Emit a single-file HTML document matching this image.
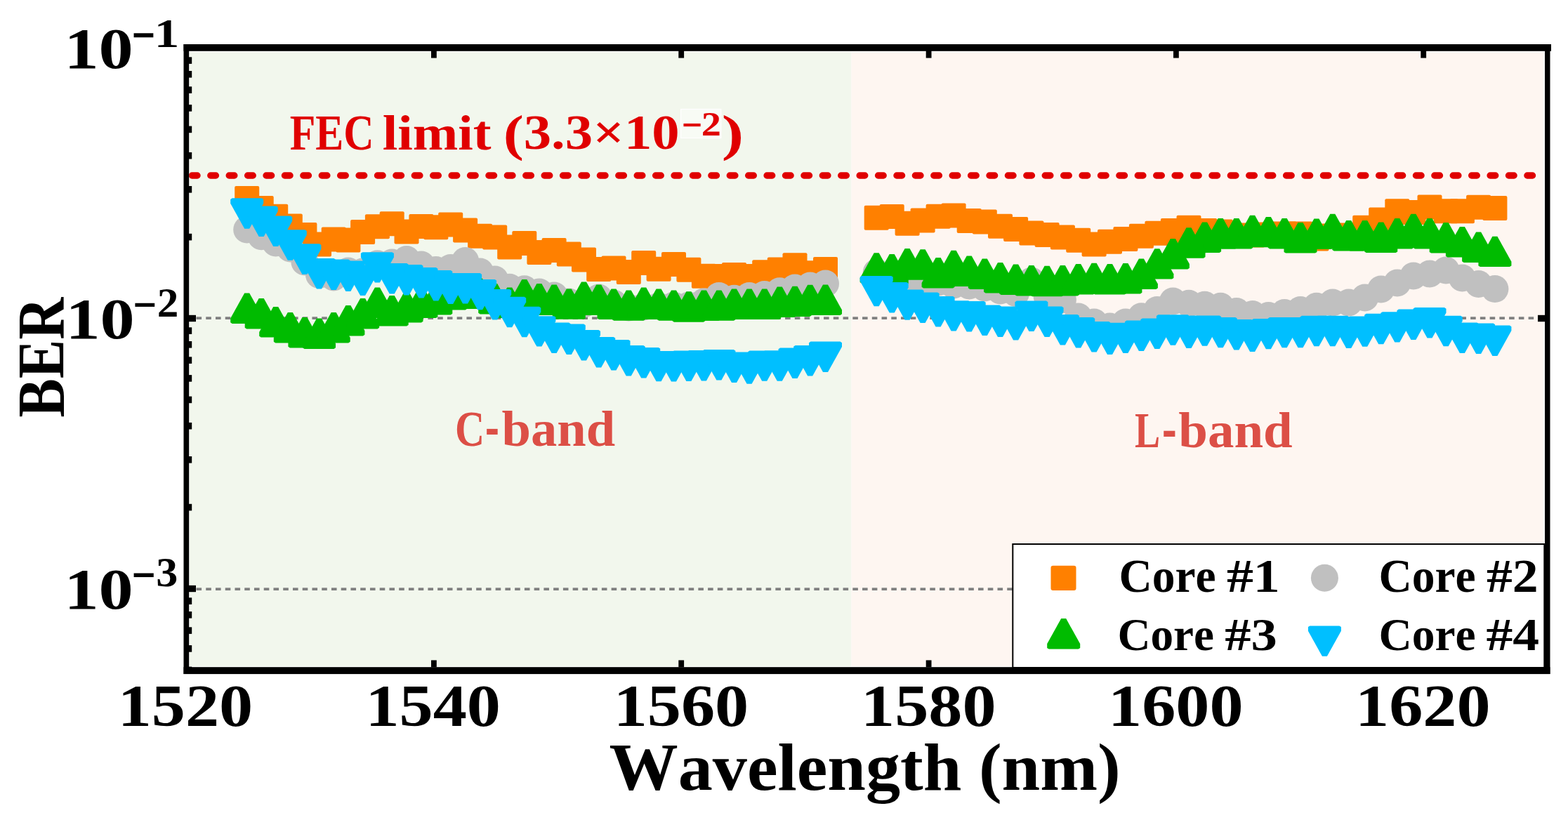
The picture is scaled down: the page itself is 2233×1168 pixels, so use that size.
<!DOCTYPE html>
<html><head><meta charset="utf-8"><title>BER vs Wavelength</title><style>html,body{margin:0;padding:0;background:#fff}svg{display:block}</style></head><body>
<svg width="2233" height="1168" viewBox="0 0 2233 1168" font-family="'Liberation Serif', serif" font-weight="bold" style="font-kerning:none">
<rect width="2233" height="1168" fill="#fff"/>
<rect x="270" y="73.8" width="942.5" height="875.2" fill="#F2F7ED"/>
<rect x="1212.5" y="73.8" width="986.5" height="875.2" fill="#FEF6F1"/>
<line x1="265.75" y1="453.1" x2="2200" y2="453.1" stroke="#808080" stroke-width="3.7" stroke-dasharray="7.6 6.147"/>
<line x1="265.75" y1="839.1" x2="2200" y2="839.1" stroke="#808080" stroke-width="3.7" stroke-dasharray="7.6 6.147"/>
<clipPath id="pc"><rect x="269.2" y="72.8" width="1930.8" height="877.2"/></clipPath>
<line x1="273.39" y1="250" x2="2190" y2="250" stroke="#E00000" stroke-width="9.4" stroke-linecap="round" stroke-dasharray="7.6 18.81" clip-path="url(#pc)"/>
<g clip-path="url(#pc)"><g fill="#FF8000"><rect x="334.2" y="265.0" width="35" height="35" rx="2"/><rect x="354.7" y="279.0" width="35" height="35" rx="2"/><rect x="375.2" y="290.8" width="35" height="35" rx="2"/><rect x="395.8" y="304.5" width="35" height="35" rx="2"/><rect x="416.4" y="317.0" width="35" height="35" rx="2"/><rect x="437.0" y="330.5" width="35" height="35" rx="2"/><rect x="457.7" y="323.5" width="35" height="35" rx="2"/><rect x="478.4" y="324.5" width="35" height="35" rx="2"/><rect x="499.1" y="313.1" width="35" height="35" rx="2"/><rect x="519.9" y="305.3" width="35" height="35" rx="2"/><rect x="540.7" y="301.3" width="35" height="35" rx="2"/><rect x="561.5" y="312.5" width="35" height="35" rx="2"/><rect x="582.4" y="305.0" width="35" height="35" rx="2"/><rect x="603.3" y="306.2" width="35" height="35" rx="2"/><rect x="624.2" y="302.5" width="35" height="35" rx="2"/><rect x="645.1" y="310.5" width="35" height="35" rx="2"/><rect x="666.1" y="318.8" width="35" height="35" rx="2"/><rect x="687.2" y="320.5" width="35" height="35" rx="2"/><rect x="708.2" y="334.5" width="35" height="35" rx="2"/><rect x="729.3" y="329.0" width="35" height="35" rx="2"/><rect x="750.4" y="342.0" width="35" height="35" rx="2"/><rect x="771.6" y="339.0" width="35" height="35" rx="2"/><rect x="792.8" y="344.5" width="35" height="35" rx="2"/><rect x="814.0" y="352.5" width="35" height="35" rx="2"/><rect x="835.2" y="366.0" width="35" height="35" rx="2"/><rect x="856.5" y="364.5" width="35" height="35" rx="2"/><rect x="877.8" y="370.0" width="35" height="35" rx="2"/><rect x="899.2" y="357.0" width="35" height="35" rx="2"/><rect x="920.6" y="365.8" width="35" height="35" rx="2"/><rect x="942.0" y="359.0" width="35" height="35" rx="2"/><rect x="963.4" y="366.7" width="35" height="35" rx="2"/><rect x="984.9" y="375.7" width="35" height="35" rx="2"/><rect x="1006.4" y="376.0" width="35" height="35" rx="2"/><rect x="1028.0" y="374.1" width="35" height="35" rx="2"/><rect x="1049.6" y="376.0" width="35" height="35" rx="2"/><rect x="1071.2" y="370.3" width="35" height="35" rx="2"/><rect x="1092.8" y="366.4" width="35" height="35" rx="2"/><rect x="1114.5" y="360.3" width="35" height="35" rx="2"/><rect x="1136.2" y="371.2" width="35" height="35" rx="2"/><rect x="1158.0" y="366.0" width="35" height="35" rx="2"/><rect x="1230.7" y="292.7" width="35" height="35" rx="2"/><rect x="1252.7" y="291.0" width="35" height="35" rx="2"/><rect x="1274.6" y="300.7" width="35" height="35" rx="2"/><rect x="1296.6" y="296.5" width="35" height="35" rx="2"/><rect x="1318.6" y="290.7" width="35" height="35" rx="2"/><rect x="1340.6" y="289.5" width="35" height="35" rx="2"/><rect x="1362.7" y="297.0" width="35" height="35" rx="2"/><rect x="1384.8" y="298.6" width="35" height="35" rx="2"/><rect x="1407.0" y="304.7" width="35" height="35" rx="2"/><rect x="1429.1" y="308.9" width="35" height="35" rx="2"/><rect x="1451.4" y="314.5" width="35" height="35" rx="2"/><rect x="1473.6" y="317.0" width="35" height="35" rx="2"/><rect x="1495.9" y="320.5" width="35" height="35" rx="2"/><rect x="1518.2" y="324.8" width="35" height="35" rx="2"/><rect x="1540.6" y="330.5" width="35" height="35" rx="2"/><rect x="1563.0" y="326.8" width="35" height="35" rx="2"/><rect x="1585.4" y="323.0" width="35" height="35" rx="2"/><rect x="1607.9" y="318.8" width="35" height="35" rx="2"/><rect x="1630.4" y="314.7" width="35" height="35" rx="2"/><rect x="1652.9" y="311.0" width="35" height="35" rx="2"/><rect x="1675.5" y="306.8" width="35" height="35" rx="2"/><rect x="1698.1" y="311.0" width="35" height="35" rx="2"/><rect x="1720.7" y="312.5" width="35" height="35" rx="2"/><rect x="1743.4" y="318.5" width="35" height="35" rx="2"/><rect x="1766.1" y="317.5" width="35" height="35" rx="2"/><rect x="1788.9" y="316.5" width="35" height="35" rx="2"/><rect x="1811.7" y="315.5" width="35" height="35" rx="2"/><rect x="1834.5" y="315.5" width="35" height="35" rx="2"/><rect x="1857.4" y="322.5" width="35" height="35" rx="2"/><rect x="1880.3" y="318.5" width="35" height="35" rx="2"/><rect x="1903.2" y="317.5" width="35" height="35" rx="2"/><rect x="1926.2" y="306.8" width="35" height="35" rx="2"/><rect x="1949.2" y="295.5" width="35" height="35" rx="2"/><rect x="1972.3" y="283.2" width="35" height="35" rx="2"/><rect x="1995.4" y="285.0" width="35" height="35" rx="2"/><rect x="2018.5" y="277.5" width="35" height="35" rx="2"/><rect x="2041.7" y="283.2" width="35" height="35" rx="2"/><rect x="2064.9" y="283.2" width="35" height="35" rx="2"/><rect x="2088.1" y="277.7" width="35" height="35" rx="2"/><rect x="2111.4" y="279.0" width="35" height="35" rx="2"/></g><g fill="#C0C0C0"><circle cx="351.7" cy="327.0" r="19.5"/><circle cx="372.2" cy="336.8" r="19.5"/><circle cx="392.7" cy="346.0" r="19.5"/><circle cx="413.3" cy="354.0" r="19.5"/><circle cx="433.9" cy="373.0" r="19.5"/><circle cx="454.5" cy="391.5" r="19.5"/><circle cx="475.2" cy="395.0" r="19.5"/><circle cx="495.9" cy="386.0" r="19.5"/><circle cx="516.6" cy="387.0" r="19.5"/><circle cx="537.4" cy="375.8" r="19.5"/><circle cx="558.2" cy="374.0" r="19.5"/><circle cx="579.0" cy="369.5" r="19.5"/><circle cx="599.9" cy="377.0" r="19.5"/><circle cx="620.8" cy="384.5" r="19.5"/><circle cx="641.7" cy="381.4" r="19.5"/><circle cx="662.6" cy="371.5" r="19.5"/><circle cx="683.6" cy="387.0" r="19.5"/><circle cx="704.7" cy="398.0" r="19.5"/><circle cx="725.7" cy="409.3" r="19.5"/><circle cx="746.8" cy="411.8" r="19.5"/><circle cx="767.9" cy="415.9" r="19.5"/><circle cx="789.1" cy="420.9" r="19.5"/><circle cx="810.3" cy="430.0" r="19.5"/><circle cx="831.5" cy="433.0" r="19.5"/><circle cx="852.7" cy="424.0" r="19.5"/><circle cx="874.0" cy="432.0" r="19.5"/><circle cx="895.3" cy="438.0" r="19.5"/><circle cx="916.7" cy="437.0" r="19.5"/><circle cx="938.1" cy="436.0" r="19.5"/><circle cx="959.5" cy="435.0" r="19.5"/><circle cx="980.9" cy="435.0" r="19.5"/><circle cx="1002.4" cy="430.0" r="19.5"/><circle cx="1023.9" cy="421.4" r="19.5"/><circle cx="1045.5" cy="425.2" r="19.5"/><circle cx="1067.1" cy="421.4" r="19.5"/><circle cx="1088.7" cy="419.5" r="19.5"/><circle cx="1110.3" cy="414.7" r="19.5"/><circle cx="1132.0" cy="409.9" r="19.5"/><circle cx="1153.7" cy="407.0" r="19.5"/><circle cx="1175.5" cy="404.0" r="19.5"/><circle cx="1248.2" cy="388.0" r="19.5"/><circle cx="1270.2" cy="398.0" r="19.5"/><circle cx="1292.1" cy="406.0" r="19.5"/><circle cx="1314.1" cy="408.0" r="19.5"/><circle cx="1336.1" cy="402.0" r="19.5"/><circle cx="1358.1" cy="406.0" r="19.5"/><circle cx="1380.2" cy="407.0" r="19.5"/><circle cx="1402.3" cy="410.0" r="19.5"/><circle cx="1424.5" cy="414.0" r="19.5"/><circle cx="1446.6" cy="417.5" r="19.5"/><circle cx="1468.9" cy="400.0" r="19.5"/><circle cx="1491.1" cy="422.0" r="19.5"/><circle cx="1513.4" cy="427.0" r="19.5"/><circle cx="1535.7" cy="451.0" r="19.5"/><circle cx="1558.1" cy="459.0" r="19.5"/><circle cx="1580.5" cy="465.0" r="19.5"/><circle cx="1602.9" cy="458.9" r="19.5"/><circle cx="1625.4" cy="450.7" r="19.5"/><circle cx="1647.9" cy="441.4" r="19.5"/><circle cx="1670.4" cy="429.0" r="19.5"/><circle cx="1693.0" cy="432.2" r="19.5"/><circle cx="1715.6" cy="434.2" r="19.5"/><circle cx="1738.2" cy="436.3" r="19.5"/><circle cx="1760.9" cy="443.5" r="19.5"/><circle cx="1783.6" cy="447.6" r="19.5"/><circle cx="1806.4" cy="449.6" r="19.5"/><circle cx="1829.2" cy="445.5" r="19.5"/><circle cx="1852.0" cy="441.4" r="19.5"/><circle cx="1874.9" cy="436.3" r="19.5"/><circle cx="1897.8" cy="431.1" r="19.5"/><circle cx="1920.7" cy="431.0" r="19.5"/><circle cx="1943.7" cy="424.0" r="19.5"/><circle cx="1966.7" cy="412.0" r="19.5"/><circle cx="1989.8" cy="403.0" r="19.5"/><circle cx="2012.9" cy="393.0" r="19.5"/><circle cx="2036.0" cy="390.0" r="19.5"/><circle cx="2059.2" cy="385.0" r="19.5"/><circle cx="2082.4" cy="396.0" r="19.5"/><circle cx="2105.6" cy="404.5" r="19.5"/><circle cx="2128.9" cy="411.6" r="19.5"/></g><g fill="#00BB00"><path d="M348.2 417.5L355.2 417.5L375.2 453.5L375.2 459.3L372.7 460.9L330.7 460.9L328.2 459.3L328.2 453.5Z"/><path d="M368.7 425.0L375.7 425.0L395.7 461.0L395.7 466.8L393.2 468.4L351.2 468.4L348.7 466.8L348.7 461.0Z"/><path d="M389.2 437.0L396.2 437.0L416.2 473.0L416.2 478.8L413.7 480.4L371.7 480.4L369.2 478.8L369.2 473.0Z"/><path d="M409.8 445.0L416.8 445.0L436.8 481.0L436.8 486.8L434.3 488.4L392.3 488.4L389.8 486.8L389.8 481.0Z"/><path d="M430.4 452.0L437.4 452.0L457.4 488.0L457.4 493.8L454.9 495.4L412.9 495.4L410.4 493.8L410.4 488.0Z"/><path d="M451.0 453.5L458.0 453.5L478.0 489.5L478.0 495.3L475.5 496.9L433.5 496.9L431.0 495.3L431.0 489.5Z"/><path d="M471.7 445.0L478.7 445.0L498.7 481.0L498.7 486.8L496.2 488.4L454.2 488.4L451.7 486.8L451.7 481.0Z"/><path d="M492.4 435.0L499.4 435.0L519.4 471.0L519.4 476.8L516.9 478.4L474.9 478.4L472.4 476.8L472.4 471.0Z"/><path d="M513.1 425.0L520.1 425.0L540.1 461.0L540.1 466.8L537.6 468.4L495.6 468.4L493.1 466.8L493.1 461.0Z"/><path d="M533.9 409.5L540.9 409.5L560.9 445.5L560.9 451.3L558.4 452.9L516.4 452.9L513.9 451.3L513.9 445.5Z"/><path d="M554.7 421.0L561.7 421.0L581.7 457.0L581.7 462.8L579.2 464.4L537.2 464.4L534.7 462.8L534.7 457.0Z"/><path d="M575.5 416.0L582.5 416.0L602.5 452.0L602.5 457.8L600.0 459.4L558.0 459.4L555.5 457.8L555.5 452.0Z"/><path d="M596.4 409.5L603.4 409.5L623.4 445.5L623.4 451.3L620.9 452.9L578.9 452.9L576.4 451.3L576.4 445.5Z"/><path d="M617.3 405.0L624.3 405.0L644.3 441.0L644.3 446.8L641.8 448.4L599.8 448.4L597.3 446.8L597.3 441.0Z"/><path d="M638.2 398.0L645.2 398.0L665.2 434.0L665.2 439.8L662.7 441.4L620.7 441.4L618.2 439.8L618.2 434.0Z"/><path d="M659.1 396.8L666.1 396.8L686.1 432.8L686.1 438.6L683.6 440.1L641.6 440.1L639.1 438.6L639.1 432.8Z"/><path d="M680.1 396.8L687.1 396.8L707.1 432.8L707.1 438.6L704.6 440.1L662.6 440.1L660.1 438.6L660.1 432.8Z"/><path d="M701.2 404.0L708.2 404.0L728.2 440.0L728.2 445.8L725.7 447.4L683.7 447.4L681.2 445.8L681.2 440.0Z"/><path d="M722.2 409.5L729.2 409.5L749.2 445.5L749.2 451.3L746.7 452.9L704.7 452.9L702.2 451.3L702.2 445.5Z"/><path d="M743.3 398.0L750.3 398.0L770.3 434.0L770.3 439.8L767.8 441.4L725.8 441.4L723.3 439.8L723.3 434.0Z"/><path d="M764.4 404.0L771.4 404.0L791.4 440.0L791.4 445.8L788.9 447.4L746.9 447.4L744.4 445.8L744.4 440.0Z"/><path d="M785.6 405.5L792.6 405.5L812.6 441.5L812.6 447.3L810.1 448.9L768.1 448.9L765.6 447.3L765.6 441.5Z"/><path d="M806.8 411.4L813.8 411.4L833.8 447.4L833.8 453.2L831.3 454.8L789.3 454.8L786.8 453.2L786.8 447.4Z"/><path d="M828.0 401.4L835.0 401.4L855.0 437.4L855.0 443.2L852.5 444.8L810.5 444.8L808.0 443.2L808.0 437.4Z"/><path d="M849.2 405.5L856.2 405.5L876.2 441.5L876.2 447.3L873.7 448.9L831.7 448.9L829.2 447.3L829.2 441.5Z"/><path d="M870.5 411.5L877.5 411.5L897.5 447.5L897.5 453.3L895.0 454.9L853.0 454.9L850.5 453.3L850.5 447.5Z"/><path d="M891.8 413.4L898.8 413.4L918.8 449.4L918.8 455.2L916.3 456.8L874.3 456.8L871.8 455.2L871.8 449.4Z"/><path d="M913.2 409.6L920.2 409.6L940.2 445.6L940.2 451.4L937.7 453.0L895.7 453.0L893.2 451.4L893.2 445.6Z"/><path d="M934.6 411.5L941.6 411.5L961.6 447.5L961.6 453.3L959.1 454.9L917.1 454.9L914.6 453.3L914.6 447.5Z"/><path d="M956.0 413.4L963.0 413.4L983.0 449.4L983.0 455.2L980.5 456.8L938.5 456.8L936.0 455.2L936.0 449.4Z"/><path d="M977.4 415.3L984.4 415.3L1004.4 451.3L1004.4 457.1L1001.9 458.7L959.9 458.7L957.4 457.1L957.4 451.3Z"/><path d="M998.9 413.4L1005.9 413.4L1025.9 449.4L1025.9 455.2L1023.4 456.8L981.4 456.8L978.9 455.2L978.9 449.4Z"/><path d="M1020.4 413.4L1027.4 413.4L1047.4 449.4L1047.4 455.2L1044.9 456.8L1002.9 456.8L1000.4 455.2L1000.4 449.4Z"/><path d="M1042.0 411.5L1049.0 411.5L1069.0 447.5L1069.0 453.3L1066.5 454.9L1024.5 454.9L1022.0 453.3L1022.0 447.5Z"/><path d="M1063.6 411.5L1070.6 411.5L1090.6 447.5L1090.6 453.3L1088.1 454.9L1046.1 454.9L1043.6 453.3L1043.6 447.5Z"/><path d="M1085.2 411.5L1092.2 411.5L1112.2 447.5L1112.2 453.3L1109.7 454.9L1067.7 454.9L1065.2 453.3L1065.2 447.5Z"/><path d="M1106.8 408.6L1113.8 408.6L1133.8 444.6L1133.8 450.4L1131.3 452.0L1089.3 452.0L1086.8 450.4L1086.8 444.6Z"/><path d="M1128.5 407.7L1135.5 407.7L1155.5 443.7L1155.5 449.5L1153.0 451.1L1111.0 451.1L1108.5 449.5L1108.5 443.7Z"/><path d="M1150.2 405.7L1157.2 405.7L1177.2 441.7L1177.2 447.5L1174.7 449.1L1132.7 449.1L1130.2 447.5L1130.2 441.7Z"/><path d="M1172.0 405.5L1179.0 405.5L1199.0 441.5L1199.0 447.3L1196.5 448.9L1154.5 448.9L1152.0 447.3L1152.0 441.5Z"/><path d="M1244.7 360.3L1251.7 360.3L1271.7 396.3L1271.7 402.1L1269.2 403.7L1227.2 403.7L1224.7 402.1L1224.7 396.3Z"/><path d="M1266.7 362.0L1273.7 362.0L1293.7 398.0L1293.7 403.8L1291.2 405.4L1249.2 405.4L1246.7 403.8L1246.7 398.0Z"/><path d="M1288.6 354.0L1295.6 354.0L1315.6 390.0L1315.6 395.8L1313.1 397.4L1271.1 397.4L1268.6 395.8L1268.6 390.0Z"/><path d="M1310.6 355.3L1317.6 355.3L1337.6 391.3L1337.6 397.1L1335.1 398.7L1293.1 398.7L1290.6 397.1L1290.6 391.3Z"/><path d="M1332.6 367.0L1339.6 367.0L1359.6 403.0L1359.6 408.8L1357.1 410.4L1315.1 410.4L1312.6 408.8L1312.6 403.0Z"/><path d="M1354.6 356.8L1361.6 356.8L1381.6 392.8L1381.6 398.6L1379.1 400.2L1337.1 400.2L1334.6 398.6L1334.6 392.8Z"/><path d="M1376.7 364.5L1383.7 364.5L1403.7 400.5L1403.7 406.3L1401.2 407.9L1359.2 407.9L1356.7 406.3L1356.7 400.5Z"/><path d="M1398.8 368.5L1405.8 368.5L1425.8 404.5L1425.8 410.3L1423.3 411.9L1381.3 411.9L1378.8 410.3L1378.8 404.5Z"/><path d="M1421.0 374.0L1428.0 374.0L1448.0 410.0L1448.0 415.8L1445.5 417.4L1403.5 417.4L1401.0 415.8L1401.0 410.0Z"/><path d="M1443.1 376.5L1450.1 376.5L1470.1 412.5L1470.1 418.3L1467.6 419.9L1425.6 419.9L1423.1 418.3L1423.1 412.5Z"/><path d="M1465.4 378.1L1472.4 378.1L1492.4 414.1L1492.4 419.9L1489.9 421.5L1447.9 421.5L1445.4 419.9L1445.4 414.1Z"/><path d="M1487.6 378.8L1494.6 378.8L1514.6 414.8L1514.6 420.6L1512.1 422.2L1470.1 422.2L1467.6 420.6L1467.6 414.8Z"/><path d="M1509.9 378.1L1516.9 378.1L1536.9 414.1L1536.9 419.9L1534.4 421.5L1492.4 421.5L1489.9 419.9L1489.9 414.1Z"/><path d="M1532.2 376.1L1539.2 376.1L1559.2 412.1L1559.2 417.9L1556.7 419.5L1514.7 419.5L1512.2 417.9L1512.2 412.1Z"/><path d="M1554.6 374.7L1561.6 374.7L1581.6 410.7L1581.6 416.5L1579.1 418.1L1537.1 418.1L1534.6 416.5L1534.6 410.7Z"/><path d="M1577.0 376.1L1584.0 376.1L1604.0 412.1L1604.0 417.9L1601.5 419.5L1559.5 419.5L1557.0 417.9L1557.0 412.1Z"/><path d="M1599.4 375.0L1606.4 375.0L1626.4 411.0L1626.4 416.8L1623.9 418.4L1581.9 418.4L1579.4 416.8L1579.4 411.0Z"/><path d="M1621.9 368.5L1628.9 368.5L1648.9 404.5L1648.9 410.3L1646.4 411.9L1604.4 411.9L1601.9 410.3L1601.9 404.5Z"/><path d="M1644.4 354.2L1651.4 354.2L1671.4 390.2L1671.4 396.0L1668.9 397.6L1626.9 397.6L1624.4 396.0L1624.4 390.2Z"/><path d="M1666.9 340.0L1673.9 340.0L1693.9 376.0L1693.9 381.8L1691.4 383.4L1649.4 383.4L1646.9 381.8L1646.9 376.0Z"/><path d="M1689.5 324.3L1696.5 324.3L1716.5 360.3L1716.5 366.1L1714.0 367.7L1672.0 367.7L1669.5 366.1L1669.5 360.3Z"/><path d="M1712.1 316.5L1719.1 316.5L1739.1 352.5L1739.1 358.3L1736.6 359.9L1694.6 359.9L1692.1 358.3L1692.1 352.5Z"/><path d="M1734.7 311.0L1741.7 311.0L1761.7 347.0L1761.7 352.8L1759.2 354.4L1717.2 354.4L1714.7 352.8L1714.7 347.0Z"/><path d="M1757.4 311.0L1764.4 311.0L1784.4 347.0L1784.4 352.8L1781.9 354.4L1739.9 354.4L1737.4 352.8L1737.4 347.0Z"/><path d="M1780.1 306.8L1787.1 306.8L1807.1 342.8L1807.1 348.6L1804.6 350.2L1762.6 350.2L1760.1 348.6L1760.1 342.8Z"/><path d="M1802.9 308.9L1809.9 308.9L1829.9 344.9L1829.9 350.7L1827.4 352.3L1785.4 352.3L1782.9 350.7L1782.9 344.9Z"/><path d="M1825.7 311.0L1832.7 311.0L1852.7 347.0L1852.7 352.8L1850.2 354.4L1808.2 354.4L1805.7 352.8L1805.7 347.0Z"/><path d="M1848.5 317.1L1855.5 317.1L1875.5 353.1L1875.5 358.9L1873.0 360.5L1831.0 360.5L1828.5 358.9L1828.5 353.1Z"/><path d="M1871.4 311.6L1878.4 311.6L1898.4 347.6L1898.4 353.4L1895.9 355.0L1853.9 355.0L1851.4 353.4L1851.4 347.6Z"/><path d="M1894.3 304.8L1901.3 304.8L1921.3 340.8L1921.3 346.6L1918.8 348.2L1876.8 348.2L1874.3 346.6L1874.3 340.8Z"/><path d="M1917.2 314.0L1924.2 314.0L1944.2 350.0L1944.2 355.8L1941.7 357.4L1899.7 357.4L1897.2 355.8L1897.2 350.0Z"/><path d="M1940.2 314.0L1947.2 314.0L1967.2 350.0L1967.2 355.8L1964.7 357.4L1922.7 357.4L1920.2 355.8L1920.2 350.0Z"/><path d="M1963.2 316.6L1970.2 316.6L1990.2 352.6L1990.2 358.4L1987.7 360.0L1945.7 360.0L1943.2 358.4L1943.2 352.6Z"/><path d="M1986.3 311.0L1993.3 311.0L2013.3 347.0L2013.3 352.8L2010.8 354.4L1968.8 354.4L1966.3 352.8L1966.3 347.0Z"/><path d="M2009.4 304.8L2016.4 304.8L2036.4 340.8L2036.4 346.6L2033.9 348.2L1991.9 348.2L1989.4 346.6L1989.4 340.8Z"/><path d="M2032.5 311.0L2039.5 311.0L2059.5 347.0L2059.5 352.8L2057.0 354.4L2015.0 354.4L2012.5 352.8L2012.5 347.0Z"/><path d="M2055.7 317.1L2062.7 317.1L2082.7 353.1L2082.7 358.9L2080.2 360.5L2038.2 360.5L2035.7 358.9L2035.7 353.1Z"/><path d="M2078.9 323.0L2085.9 323.0L2105.9 359.0L2105.9 364.8L2103.4 366.4L2061.4 366.4L2058.9 364.8L2058.9 359.0Z"/><path d="M2102.1 330.5L2109.1 330.5L2129.1 366.5L2129.1 372.3L2126.6 373.9L2084.6 373.9L2082.1 372.3L2082.1 366.5Z"/><path d="M2125.4 336.7L2132.4 336.7L2152.4 372.7L2152.4 378.5L2149.9 380.1L2107.9 380.1L2105.4 378.5L2105.4 372.7Z"/></g><g fill="#00BFFF"><path d="M348.2 325.7L355.2 325.7L375.2 289.7L375.2 283.9L372.7 282.3L330.7 282.3L328.2 283.9L328.2 289.7Z"/><path d="M368.7 337.0L375.7 337.0L395.7 301.0L395.7 295.2L393.2 293.6L351.2 293.6L348.7 295.2L348.7 301.0Z"/><path d="M389.2 351.0L396.2 351.0L416.2 315.0L416.2 309.2L413.7 307.6L371.7 307.6L369.2 309.2L369.2 315.0Z"/><path d="M409.8 370.7L416.8 370.7L436.8 334.7L436.8 328.9L434.3 327.3L392.3 327.3L389.8 328.9L389.8 334.7Z"/><path d="M430.4 390.7L437.4 390.7L457.4 354.7L457.4 348.9L454.9 347.3L412.9 347.3L410.4 348.9L410.4 354.7Z"/><path d="M451.0 411.5L458.0 411.5L478.0 375.5L478.0 369.7L475.5 368.1L433.5 368.1L431.0 369.7L431.0 375.5Z"/><path d="M471.7 413.0L478.7 413.0L498.7 377.0L498.7 371.2L496.2 369.6L454.2 369.6L451.7 371.2L451.7 377.0Z"/><path d="M492.4 415.0L499.4 415.0L519.4 379.0L519.4 373.2L516.9 371.6L474.9 371.6L472.4 373.2L472.4 379.0Z"/><path d="M513.1 421.0L520.1 421.0L540.1 385.0L540.1 379.2L537.6 377.6L495.6 377.6L493.1 379.2L493.1 385.0Z"/><path d="M533.9 402.6L540.9 402.6L560.9 366.6L560.9 360.8L558.4 359.2L516.4 359.2L513.9 360.8L513.9 366.6Z"/><path d="M554.7 418.5L561.7 418.5L581.7 382.5L581.7 376.7L579.2 375.1L537.2 375.1L534.7 376.7L534.7 382.5Z"/><path d="M575.5 420.5L582.5 420.5L602.5 384.5L602.5 378.7L600.0 377.1L558.0 377.1L555.5 378.7L555.5 384.5Z"/><path d="M596.4 424.5L603.4 424.5L623.4 388.5L623.4 382.7L620.9 381.1L578.9 381.1L576.4 382.7L576.4 388.5Z"/><path d="M617.3 428.5L624.3 428.5L644.3 392.5L644.3 386.7L641.8 385.1L599.8 385.1L597.3 386.7L597.3 392.5Z"/><path d="M638.2 433.0L645.2 433.0L665.2 397.0L665.2 391.2L662.7 389.6L620.7 389.6L618.2 391.2L618.2 397.0Z"/><path d="M659.1 432.5L666.1 432.5L686.1 396.5L686.1 390.7L683.6 389.1L641.6 389.1L639.1 390.7L639.1 396.5Z"/><path d="M680.1 441.2L687.1 441.2L707.1 405.2L707.1 399.4L704.6 397.9L662.6 397.9L660.1 399.4L660.1 405.2Z"/><path d="M701.2 455.4L708.2 455.4L728.2 419.4L728.2 413.6L725.7 412.0L683.7 412.0L681.2 413.6L681.2 419.4Z"/><path d="M722.2 466.2L729.2 466.2L749.2 430.2L749.2 424.4L746.7 422.8L704.7 422.8L702.2 424.4L702.2 430.2Z"/><path d="M743.3 480.2L750.3 480.2L770.3 444.2L770.3 438.4L767.8 436.8L725.8 436.8L723.3 438.4L723.3 444.2Z"/><path d="M764.4 493.6L771.4 493.6L791.4 457.6L791.4 451.8L788.9 450.2L746.9 450.2L744.4 451.8L744.4 457.6Z"/><path d="M785.6 503.0L792.6 503.0L812.6 467.0L812.6 461.2L810.1 459.6L768.1 459.6L765.6 461.2L765.6 467.0Z"/><path d="M806.8 505.0L813.8 505.0L833.8 469.0L833.8 463.2L831.3 461.6L789.3 461.6L786.8 463.2L786.8 469.0Z"/><path d="M828.0 513.5L835.0 513.5L855.0 477.5L855.0 471.7L852.5 470.1L810.5 470.1L808.0 471.7L808.0 477.5Z"/><path d="M849.2 523.4L856.2 523.4L876.2 487.4L876.2 481.6L873.7 480.0L831.7 480.0L829.2 481.6L829.2 487.4Z"/><path d="M870.5 527.4L877.5 527.4L897.5 491.4L897.5 485.6L895.0 484.0L853.0 484.0L850.5 485.6L850.5 491.4Z"/><path d="M891.8 535.5L898.8 535.5L918.8 499.5L918.8 493.7L916.3 492.1L874.3 492.1L871.8 493.7L871.8 499.5Z"/><path d="M913.2 538.4L920.2 538.4L940.2 502.4L940.2 496.6L937.7 495.0L895.7 495.0L893.2 496.6L893.2 502.4Z"/><path d="M934.6 543.3L941.6 543.3L961.6 507.3L961.6 501.5L959.1 499.9L917.1 499.9L914.6 501.5L914.6 507.3Z"/><path d="M956.0 543.5L963.0 543.5L983.0 507.5L983.0 501.7L980.5 500.1L938.5 500.1L936.0 501.7L936.0 507.5Z"/><path d="M977.4 543.0L984.4 543.0L1004.4 507.0L1004.4 501.2L1001.9 499.6L959.9 499.6L957.4 501.2L957.4 507.0Z"/><path d="M998.9 542.5L1005.9 542.5L1025.9 506.5L1025.9 500.7L1023.4 499.1L981.4 499.1L978.9 500.7L978.9 506.5Z"/><path d="M1020.4 541.5L1027.4 541.5L1047.4 505.5L1047.4 499.7L1044.9 498.1L1002.9 498.1L1000.4 499.7L1000.4 505.5Z"/><path d="M1042.0 545.0L1049.0 545.0L1069.0 509.0L1069.0 503.2L1066.5 501.6L1024.5 501.6L1022.0 503.2L1022.0 509.0Z"/><path d="M1063.6 546.7L1070.6 546.7L1090.6 510.7L1090.6 504.9L1088.1 503.3L1046.1 503.3L1043.6 504.9L1043.6 510.7Z"/><path d="M1085.2 542.8L1092.2 542.8L1112.2 506.8L1112.2 501.0L1109.7 499.4L1067.7 499.4L1065.2 501.0L1065.2 506.8Z"/><path d="M1106.8 542.8L1113.8 542.8L1133.8 506.8L1133.8 501.0L1131.3 499.4L1089.3 499.4L1086.8 501.0L1086.8 506.8Z"/><path d="M1128.5 539.0L1135.5 539.0L1155.5 503.0L1155.5 497.2L1153.0 495.6L1111.0 495.6L1108.5 497.2L1108.5 503.0Z"/><path d="M1150.2 535.4L1157.2 535.4L1177.2 499.4L1177.2 493.6L1174.7 492.0L1132.7 492.0L1130.2 493.6L1130.2 499.4Z"/><path d="M1172.0 530.0L1179.0 530.0L1199.0 494.0L1199.0 488.2L1196.5 486.6L1154.5 486.6L1152.0 488.2L1152.0 494.0Z"/><path d="M1244.7 436.3L1251.7 436.3L1271.7 400.3L1271.7 394.5L1269.2 392.9L1227.2 392.9L1224.7 394.5L1224.7 400.3Z"/><path d="M1266.7 445.5L1273.7 445.5L1293.7 409.5L1293.7 403.7L1291.2 402.1L1249.2 402.1L1246.7 403.7L1246.7 409.5Z"/><path d="M1288.6 455.8L1295.6 455.8L1315.6 419.8L1315.6 414.0L1313.1 412.4L1271.1 412.4L1268.6 414.0L1268.6 419.8Z"/><path d="M1310.6 459.9L1317.6 459.9L1337.6 423.9L1337.6 418.1L1335.1 416.5L1293.1 416.5L1290.6 418.1L1290.6 423.9Z"/><path d="M1332.6 465.5L1339.6 465.5L1359.6 429.5L1359.6 423.7L1357.1 422.1L1315.1 422.1L1312.6 423.7L1312.6 429.5Z"/><path d="M1354.6 471.6L1361.6 471.6L1381.6 435.6L1381.6 429.8L1379.1 428.2L1337.1 428.2L1334.6 429.8L1334.6 435.6Z"/><path d="M1376.7 472.5L1383.7 472.5L1403.7 436.5L1403.7 430.7L1401.2 429.1L1359.2 429.1L1356.7 430.7L1356.7 436.5Z"/><path d="M1398.8 478.0L1405.8 478.0L1425.8 442.0L1425.8 436.2L1423.3 434.6L1381.3 434.6L1378.8 436.2L1378.8 442.0Z"/><path d="M1421.0 480.0L1428.0 480.0L1448.0 444.0L1448.0 438.2L1445.5 436.6L1403.5 436.6L1401.0 438.2L1401.0 444.0Z"/><path d="M1443.1 484.6L1450.1 484.6L1470.1 448.6L1470.1 442.8L1467.6 441.2L1425.6 441.2L1423.1 442.8L1423.1 448.6Z"/><path d="M1465.4 472.0L1472.4 472.0L1492.4 436.0L1492.4 430.2L1489.9 428.6L1447.9 428.6L1445.4 430.2L1445.4 436.0Z"/><path d="M1487.6 480.0L1494.6 480.0L1514.6 444.0L1514.6 438.2L1512.1 436.6L1470.1 436.6L1467.6 438.2L1467.6 444.0Z"/><path d="M1509.9 491.5L1516.9 491.5L1536.9 455.5L1536.9 449.7L1534.4 448.1L1492.4 448.1L1489.9 449.7L1489.9 455.5Z"/><path d="M1532.2 495.5L1539.2 495.5L1559.2 459.5L1559.2 453.7L1556.7 452.1L1514.7 452.1L1512.2 453.7L1512.2 459.5Z"/><path d="M1554.6 501.5L1561.6 501.5L1581.6 465.5L1581.6 459.7L1579.1 458.1L1537.1 458.1L1534.6 459.7L1534.6 465.5Z"/><path d="M1577.0 505.1L1584.0 505.1L1604.0 469.1L1604.0 463.3L1601.5 461.7L1559.5 461.7L1557.0 463.3L1557.0 469.1Z"/><path d="M1599.4 503.1L1606.4 503.1L1626.4 467.1L1626.4 461.3L1623.9 459.7L1581.9 459.7L1579.4 461.3L1579.4 467.1Z"/><path d="M1621.9 500.0L1628.9 500.0L1648.9 464.0L1648.9 458.2L1646.4 456.6L1604.4 456.6L1601.9 458.2L1601.9 464.0Z"/><path d="M1644.4 496.9L1651.4 496.9L1671.4 460.9L1671.4 455.1L1668.9 453.5L1626.9 453.5L1624.4 455.1L1624.4 460.9Z"/><path d="M1666.9 491.7L1673.9 491.7L1693.9 455.7L1693.9 449.9L1691.4 448.3L1649.4 448.3L1646.9 449.9L1646.9 455.7Z"/><path d="M1689.5 495.9L1696.5 495.9L1716.5 459.9L1716.5 454.1L1714.0 452.5L1672.0 452.5L1669.5 454.1L1669.5 459.9Z"/><path d="M1712.1 492.8L1719.1 492.8L1739.1 456.8L1739.1 451.0L1736.6 449.4L1694.6 449.4L1692.1 451.0L1692.1 456.8Z"/><path d="M1734.7 495.3L1741.7 495.3L1761.7 459.3L1761.7 453.5L1759.2 451.9L1717.2 451.9L1714.7 453.5L1714.7 459.3Z"/><path d="M1757.4 498.4L1764.4 498.4L1784.4 462.4L1784.4 456.6L1781.9 455.0L1739.9 455.0L1737.4 456.6L1737.4 462.4Z"/><path d="M1780.1 501.0L1787.1 501.0L1807.1 465.0L1807.1 459.2L1804.6 457.6L1762.6 457.6L1760.1 459.2L1760.1 465.0Z"/><path d="M1802.9 497.3L1809.9 497.3L1829.9 461.3L1829.9 455.5L1827.4 453.9L1785.4 453.9L1782.9 455.5L1782.9 461.3Z"/><path d="M1825.7 495.3L1832.7 495.3L1852.7 459.3L1852.7 453.5L1850.2 451.9L1808.2 451.9L1805.7 453.5L1805.7 459.3Z"/><path d="M1848.5 495.3L1855.5 495.3L1875.5 459.3L1875.5 453.5L1873.0 451.9L1831.0 451.9L1828.5 453.5L1828.5 459.3Z"/><path d="M1871.4 493.2L1878.4 493.2L1898.4 457.2L1898.4 451.4L1895.9 449.8L1853.9 449.8L1851.4 451.4L1851.4 457.2Z"/><path d="M1894.3 493.2L1901.3 493.2L1921.3 457.2L1921.3 451.4L1918.8 449.8L1876.8 449.8L1874.3 451.4L1874.3 457.2Z"/><path d="M1917.2 495.9L1924.2 495.9L1944.2 459.9L1944.2 454.1L1941.7 452.5L1899.7 452.5L1897.2 454.1L1897.2 459.9Z"/><path d="M1940.2 493.8L1947.2 493.8L1967.2 457.8L1967.2 452.0L1964.7 450.4L1922.7 450.4L1920.2 452.0L1920.2 457.8Z"/><path d="M1963.2 490.2L1970.2 490.2L1990.2 454.2L1990.2 448.4L1987.7 446.8L1945.7 446.8L1943.2 448.4L1943.2 454.2Z"/><path d="M1986.3 487.6L1993.3 487.6L2013.3 451.6L2013.3 445.8L2010.8 444.2L1968.8 444.2L1966.3 445.8L1966.3 451.6Z"/><path d="M2009.4 484.0L2016.4 484.0L2036.4 448.0L2036.4 442.2L2033.9 440.6L1991.9 440.6L1989.4 442.2L1989.4 448.0Z"/><path d="M2032.5 481.5L2039.5 481.5L2059.5 445.5L2059.5 439.7L2057.0 438.1L2015.0 438.1L2012.5 439.7L2012.5 445.5Z"/><path d="M2055.7 493.2L2062.7 493.2L2082.7 457.2L2082.7 451.4L2080.2 449.8L2038.2 449.8L2035.7 451.4L2035.7 457.2Z"/><path d="M2078.9 503.0L2085.9 503.0L2105.9 467.0L2105.9 461.2L2103.4 459.6L2061.4 459.6L2058.9 461.2L2058.9 467.0Z"/><path d="M2102.1 504.0L2109.1 504.0L2129.1 468.0L2129.1 462.2L2126.6 460.6L2084.6 460.6L2082.1 462.2L2082.1 468.0Z"/><path d="M2125.4 507.0L2132.4 507.0L2152.4 471.0L2152.4 465.2L2149.9 463.6L2107.9 463.6L2105.4 465.2L2105.4 471.0Z"/></g></g>
<rect x="969.6" y="155.5" width="57.2" height="41.1" fill="#F8FBF5" stroke="#fff" stroke-width="1.2"/>
<text transform="matrix(0.8314 0 0 1 412.68 213.30)" font-size="72.04" fill="#E00000">FEC</text>
<text transform="matrix(1.1031 0 0 1 544.69 212.71)" font-size="70.21" fill="#E00000">limit</text>
<text transform="matrix(1.2258 0 0 1 716.65 213.59)" font-size="71.46" fill="#E00000">(</text>
<text transform="matrix(1.1185 0 0 1 745.74 212.40)" font-size="70.38" fill="#E00000">3.3×10</text>
<text transform="matrix(0.8655 0 0 1 970.85 197.86)" font-size="60.15" fill="#E00000">−</text>
<text transform="matrix(1.1381 0 0 1 998.63 192.60)" font-size="49.54" fill="#E00000">2</text>
<text transform="matrix(1.3185 0 0 1 1027.76 213.59)" font-size="71.46" fill="#E00000">)</text>
<text transform="matrix(0.8112 0 0 1 648.05 635.20)" font-size="72.04" fill="#DC4F46">C</text>
<text transform="matrix(0.6259 0 0 1 691.01 637.49)" font-size="95.34" fill="#DC4F46">-</text>
<text transform="matrix(1.0409 0 0 1 714.45 635.20)" font-size="71.63" fill="#DC4F46">band</text>
<text transform="matrix(0.7460 0 0 1 1615.98 637.30)" font-size="72.54" fill="#DC4F46">L</text>
<text transform="matrix(0.6344 0 0 1 1654.93 640.64)" font-size="97.69" fill="#DC4F46">-</text>
<text transform="matrix(1.0434 0 0 1 1678.35 637.30)" font-size="71.77" fill="#DC4F46">band</text>
<g fill="#000">
<rect x="261.5" y="63" width="1947.5" height="9.8"/>
<rect x="261.5" y="950.2" width="1946" height="9.9"/>
<rect x="261.5" y="63" width="7.7" height="897"/>
<rect x="2200" y="63" width="7.5" height="897"/>
<rect x="614.0" y="72" width="7.8" height="10.6"/>
<rect x="614.0" y="940.4" width="7.8" height="10"/>
<rect x="966.3" y="72" width="7.8" height="10.6"/>
<rect x="966.3" y="940.4" width="7.8" height="10"/>
<rect x="1318.7" y="72" width="7.8" height="10.6"/>
<rect x="1318.7" y="940.4" width="7.8" height="10"/>
<rect x="1671.0" y="72" width="7.8" height="10.6"/>
<rect x="1671.0" y="940.4" width="7.8" height="10"/>
<rect x="2023.3" y="72" width="7.8" height="10.6"/>
<rect x="2023.3" y="940.4" width="7.8" height="10"/>
<rect x="269" y="448.8" width="10" height="9.4"/>
<rect x="2190" y="448.8" width="10.5" height="9.4"/>
<rect x="269" y="833.8" width="10" height="9.4"/>
<rect x="269" y="332.8" width="4.2" height="9.6"/>
<rect x="269" y="265.0" width="4.2" height="9.6"/>
<rect x="269" y="216.9" width="4.2" height="9.6"/>
<rect x="269" y="179.6" width="4.2" height="9.6"/>
<rect x="269" y="149.1" width="4.2" height="9.6"/>
<rect x="269" y="123.3" width="4.2" height="9.6"/>
<rect x="269" y="101.0" width="4.2" height="9.6"/>
<rect x="269" y="81.3" width="4.2" height="9.6"/>
<rect x="269" y="717.8" width="4.2" height="9.6"/>
<rect x="269" y="650.0" width="4.2" height="9.6"/>
<rect x="269" y="601.9" width="4.2" height="9.6"/>
<rect x="269" y="564.6" width="4.2" height="9.6"/>
<rect x="269" y="534.1" width="4.2" height="9.6"/>
<rect x="269" y="508.3" width="4.2" height="9.6"/>
<rect x="269" y="486.0" width="4.2" height="9.6"/>
<rect x="269" y="466.3" width="4.2" height="9.6"/>
<rect x="269" y="949.6" width="4.2" height="9.6"/>
<rect x="269" y="919.1" width="4.2" height="9.6"/>
<rect x="269" y="893.3" width="4.2" height="9.6"/>
<rect x="269" y="871.0" width="4.2" height="9.6"/>
<rect x="269" y="851.3" width="4.2" height="9.6"/>
</g>
<rect x="1442.3" y="775" width="757" height="176" fill="#fff" stroke="#000" stroke-width="2"/>
<rect x="1496.5" y="805.7" width="36" height="35.4" rx="3" fill="#FF8000"/>
<circle cx="1886.4" cy="823.3" r="19.5" fill="#C0C0C0"/>
<g fill="#00BB00"><path d="M1511.2 881.1L1518.2 881.1L1538.2 917.1L1538.2 922.9L1535.7 924.5L1493.7 924.5L1491.2 922.9L1491.2 917.1Z"/></g>
<g fill="#00BFFF"><path d="M1882.9 934.8L1889.9 934.8L1909.9 898.8L1909.9 893.0L1907.4 891.4L1865.4 891.4L1862.9 893.0L1862.9 898.8Z"/></g>
<text transform="matrix(0.9753 0 0 1 1593.40 843.40)" font-size="67.21" fill="#000">Core</text>
<text transform="matrix(1.1377 0 0 1 1746.90 843.40)" font-size="66.74" fill="#000">#1</text>
<text transform="matrix(0.9753 0 0 1 1963.40 843.40)" font-size="67.21" fill="#000">Core</text>
<text transform="matrix(1.1049 0 0 1 2116.93 843.40)" font-size="66.74" fill="#000">#2</text>
<text transform="matrix(0.9857 0 0 1 1591.42 926.30)" font-size="66.15" fill="#000">Core</text>
<text transform="matrix(1.1349 0 0 1 1744.22 926.30)" font-size="65.67" fill="#000">#3</text>
<text transform="matrix(0.9909 0 0 1 1963.40 926.30)" font-size="66.15" fill="#000">Core</text>
<text transform="matrix(1.1528 0 0 1 2116.50 926.30)" font-size="65.67" fill="#000">#4</text>
<text transform="matrix(1.1331 0 0 1 167.69 1033.60)" font-size="84.98" fill="#000">1520</text>
<text transform="matrix(1.1331 0 0 1 520.44 1033.60)" font-size="84.98" fill="#000">1540</text>
<text transform="matrix(1.1331 0 0 1 873.69 1033.60)" font-size="84.98" fill="#000">1560</text>
<text transform="matrix(1.1331 0 0 1 1225.99 1033.60)" font-size="84.98" fill="#000">1580</text>
<text transform="matrix(1.1331 0 0 1 1577.99 1033.60)" font-size="84.98" fill="#000">1600</text>
<text transform="matrix(1.1331 0 0 1 1930.09 1033.60)" font-size="84.98" fill="#000">1620</text>
<text transform="matrix(1.1976 0 0 1 91.43 97.40)" font-size="82.10" fill="#000">10</text>
<text transform="matrix(0.6960 0 0 1 187.25 79.31)" font-size="85.93" fill="#000">−</text>
<text transform="matrix(1.2396 0 0 1 219.80 66.60)" font-size="57.41" fill="#000">1</text>
<text transform="matrix(1.1826 0 0 1 93.43 481.89)" font-size="83.14" fill="#000">10</text>
<text transform="matrix(0.8030 0 0 1 189.25 459.31)" font-size="74.47" fill="#000">−</text>
<text transform="matrix(1.0470 0 0 1 223.73 450.80)" font-size="58.45" fill="#000">2</text>
<text transform="matrix(1.1826 0 0 1 91.43 866.89)" font-size="83.14" fill="#000">10</text>
<text transform="matrix(0.7564 0 0 1 187.60 846.41)" font-size="80.20" fill="#000">−</text>
<text transform="matrix(1.0674 0 0 1 222.36 835.23)" font-size="58.20" fill="#000">3</text>
<text transform="translate(91.00 594.78) rotate(-90) scale(0.8712 1)" font-size="95.60" fill="#000">BER</text>
<text transform="matrix(1.0352 0 0 1 867.61 1124.50)" font-size="94.84" fill="#000">Wavelength (nm)</text>
</svg>
</body></html>
